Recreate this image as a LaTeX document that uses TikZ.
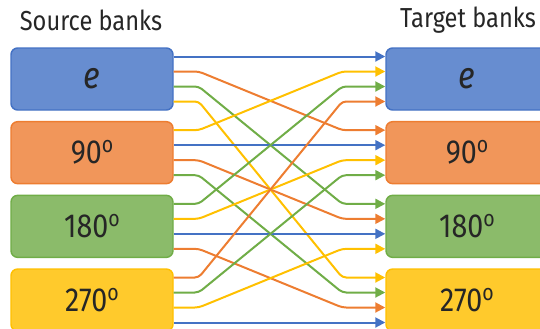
\documentclass[tikz,border=0pt]{standalone}
\usepackage{fontspec}
\setmainfont{Fira Sans}[FakeStretch=0.86]
\usetikzlibrary{arrows.meta,calc}
\definecolor{col0}{HTML}{4472C4}
\definecolor{col1}{HTML}{ED7D31}
\definecolor{col2}{HTML}{70AD47}
\definecolor{col3}{HTML}{FFC000}
\definecolor{fill0}{HTML}{678DD0}
\definecolor{fill1}{HTML}{F1965A}
\definecolor{fill2}{HTML}{8BBB6A}
\definecolor{fill3}{HTML}{FFCA2C}
\definecolor{txt}{HTML}{262626}
\newcommand\ordo{\raisebox{8.2pt}{\fontsize{17pt}{17pt}\selectfont o}}
\tikzset{
  bank/.style={rectangle, rounded corners=5pt, minimum width=121.5pt, minimum height=46.5pt,
    line width=1.1pt, text=txt, font=\fontsize{25pt}{28pt}\selectfont, inner sep=0pt},
  title/.style={text=txt, font=\fontsize{20.6pt}{24pt}\selectfont, inner sep=0pt},
  conn/.style={line width=1.5pt, rounded corners=3pt, -{Triangle[length=7.5pt,width=7.5pt]}}
}
\begin{document}
\begin{tikzpicture}[x=0.75pt,y=-0.75pt]
\useasboundingbox (0,0) rectangle (540,329);
\clip (0,0) rectangle (540,329);
\node[title] (srcT) at (91,20) {Source banks};
\node[title] (tgtT) at (468,20) {Target banks};
\foreach \b/\lab in {0/{\fontsize{28pt}{30pt}\selectfont\itshape e},1/90\ordo,2/180\ordo,3/270\ordo}{
  \node[bank, draw=col\b, fill=fill\b] (s\b) at (92,{79+73.67*\b}) {\lab};
  \node[bank, draw=col\b, fill=fill\b] (t\b) at (467,{79+73.67*\b}) {\lab};
}
\foreach \b in {0,...,3}{
  \foreach \k in {0,...,3}{
    \coordinate (s\b-\k) at ($(s\b.east)+(0,{15*(\k-1.5)})$);
    \coordinate (t\b-\k) at ($(t\b.west)+(0,{15*(\k-1.5)})$);
  }
}
\foreach \s in {0,...,3}{
  \foreach \t in {0,...,3}{
    \pgfmathtruncatemacro\c{mod(\t-\s+4,4)}
    \draw[conn, col\c] (s\s-\t) -- ++(25,0) -- ($(t\t-\s)+(-43,0)$) -- (t\t-\s);
  }
}
\end{tikzpicture}
\end{document}
